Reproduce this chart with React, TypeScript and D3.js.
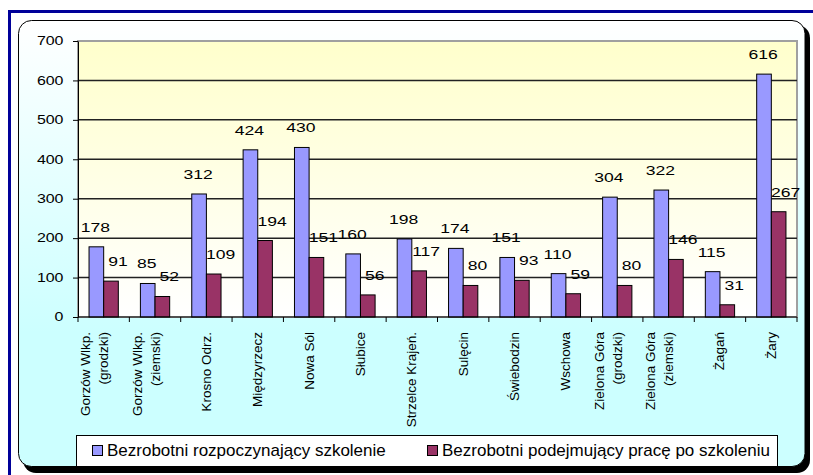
import React, { useEffect, useRef } from 'react'
import * as d3 from 'd3'

const categories = [
  'Gorzów Wlkp. (grodzki)', 'Gorzów Wlkp. (ziemski)', 'Krosno Odrz.', 'Międzyrzecz', 'Nowa Sól',
  'Słubice', 'Strzelce Krajeń.', 'Sulęcin', 'Świebodzin', 'Wschowa',
  'Zielona Góra (grodzki)', 'Zielona Góra (ziemski)', 'Żagań', 'Żary'
]
const starting = [178, 85, 312, 424, 430, 160, 198, 174, 151, 110, 304, 322, 115, 616]
const employed = [91, 52, 109, 194, 151, 56, 117, 80, 93, 59, 80, 146, 31, 267]
const seriesNames = ['Bezrobotni rozpoczynający szkolenie', 'Bezrobotni podejmujący pracę po szkoleniu']
const seriesColors = ['#9999ff', '#993366']
const yTicks = [0, 100, 200, 300, 400, 500, 600, 700]

const font = 'Arial, "Liberation Sans", sans-serif'

const App = () => {
  const chart = useRef<SVGSVGElement>(null)

  useEffect(() => {
    const svg = d3.select(chart.current)
    svg.selectAll('*').remove()

    const defs = svg.append('defs')
    const panelGrad = defs.append('linearGradient').attr('id', 'panelGrad')
      .attr('x1', 0).attr('y1', 0).attr('x2', 0).attr('y2', 1)
    panelGrad.append('stop').attr('offset', 0).attr('stop-color', '#ffffff')
    panelGrad.append('stop').attr('offset', 0.7).attr('stop-color', '#ccffff')
    const plotGrad = defs.append('linearGradient').attr('id', 'plotGrad')
      .attr('x1', 0).attr('y1', 0).attr('x2', 0).attr('y2', 1)
    plotGrad.append('stop').attr('offset', 0).attr('stop-color', '#ffffcc')
    plotGrad.append('stop').attr('offset', 1).attr('stop-color', '#ffffff')

    // blue frame, then the rounded panel with its shadow
    svg.append('rect').attr('x', 9.5).attr('y', 11.5).attr('width', 820).attr('height', 480)
      .attr('fill', '#fff').attr('stroke', '#000099').attr('stroke-width', 3)
    svg.append('rect').attr('x', 23).attr('y', 25).attr('width', 787).attr('height', 448)
      .attr('rx', 13).attr('fill', '#000')
    svg.append('rect').attr('x', 18.5).attr('y', 20.5).attr('width', 786.5).attr('height', 446)
      .attr('rx', 13).attr('fill', 'url(#panelGrad)').attr('stroke', '#000')

    const x = d3.scaleBand<number>().domain(d3.range(categories.length))
      .range([78, 797]).paddingInner(0.43).paddingOuter(0.215)
    const xs = d3.scaleBand<number>().domain([0, 1]).range([0, x.bandwidth()])
    const y = d3.scaleLinear().domain([0, 700]).range([317, 41])
    const [x0, x1] = x.range()

    svg.append('rect').attr('x', x0).attr('y', y(700)).attr('width', x1 - x0).attr('height', y(0) - y(700))
      .attr('fill', 'url(#plotGrad)').attr('stroke', '#a0a0a0').attr('stroke-width', 2)

    svg.append('g').selectAll('line').data(yTicks.slice(1, -1)).join('line')
      .attr('x1', x0).attr('x2', x1)
      .attr('y1', d => y(d)).attr('y2', d => y(d))
      .attr('stroke', '#222').attr('stroke-width', 1.5)

    // bars + value labels
    const labelShift = [-1, 7]
    ;[starting, employed].forEach((vals, s) => {
      svg.append('g').selectAll('rect').data(vals).join('rect')
        .attr('x', (_, i) => x(i)! + xs(s)!)
        .attr('y', d => y(d))
        .attr('width', xs.bandwidth())
        .attr('height', d => y(0) - y(d))
        .attr('fill', seriesColors[s]).attr('stroke', '#000').attr('stroke-width', 1)

      svg.append('g').selectAll('text').data(vals).join('text')
        .attr('transform', (d, i) =>
          `translate(${x(i)! + xs(s)! + xs.bandwidth() / 2 + labelShift[s]},${y(d) - 15}) scale(1.3,1)`)
        .attr('text-anchor', 'middle').attr('font-size', 13.5).attr('fill', '#000')
        .text(d => d)
    })

    // y axis
    const yAxis = svg.append('g').attr('transform', `translate(${x0},0)`)
      .call(d3.axisLeft(y).tickValues(yTicks).tickSize(5).tickSizeOuter(0).tickFormat(() => ''))
    yAxis.select('.domain').attr('stroke', '#000')
    yAxis.selectAll('line').attr('stroke', '#000')
    svg.append('g').selectAll('text').data(yTicks).join('text')
      .attr('transform', d => `translate(63.5,${y(d)}) scale(1.33,1)`)
      .attr('text-anchor', 'end').attr('dy', '0.36em').attr('font-size', 12)
      .text(d => d)

    // x axis with ticks on category boundaries
    svg.append('line').attr('x1', x0).attr('x2', x1).attr('y1', y(0)).attr('y2', y(0)).attr('stroke', '#000')
    svg.append('g').selectAll('line').data(d3.range(categories.length + 1)).join('line')
      .attr('x1', i => x0 + i * x.step()).attr('x2', i => x0 + i * x.step())
      .attr('y1', y(0)).attr('y2', y(0) + 5).attr('stroke', '#000')

    categories.forEach((name, i) => {
      const cut = name.indexOf(' (')
      const parts = cut > 0 ? [name.slice(0, cut), name.slice(cut + 1)] : [name]
      const offs = parts.length === 2 ? [-18, 0] : [0]
      const cx = x(i)! + x.bandwidth() / 2
      parts.forEach((p, j) => {
        svg.append('text')
          .attr('transform', `translate(${cx + offs[j]},332) rotate(-90)`)
          .attr('text-anchor', 'end').attr('dominant-baseline', 'central')
          .attr('font-size', 13.5)
          .text(p)
      })
    })

    // legend
    svg.append('rect').attr('x', 76.5).attr('y', 435.5).attr('width', 701).attr('height', 31)
      .attr('fill', '#fff').attr('stroke', '#000')
    const legendX = [92, 427]
    seriesNames.forEach((n, s) => {
      svg.append('rect').attr('x', legendX[s] + 0.5).attr('y', 445.5).attr('width', 10).attr('height', 10)
        .attr('fill', seriesColors[s]).attr('stroke', '#000')
      svg.append('text').attr('x', legendX[s] + 15).attr('y', 456)
        .attr('font-size', 17).text(n)
    })
  }, [])

  return (
    <div id="chartArea">
      <svg ref={chart} width={813} height={475} fontFamily={font}
        style={{ position: 'absolute', left: 0, top: 0 }}></svg>
    </div>
  )
}

export default App
